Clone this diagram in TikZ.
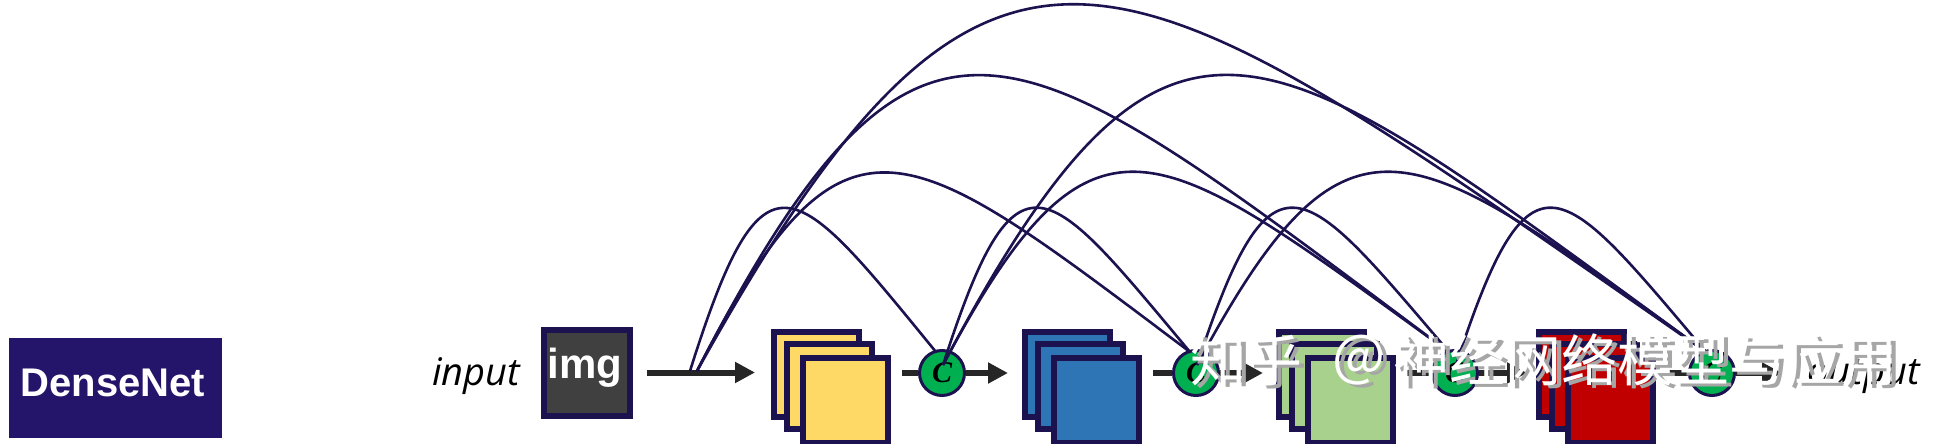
\documentclass[tikz,border=0pt]{standalone}
\usepackage{fontspec}
\setmainfont{Liberation Sans}
\newfontfamily\labfont{Open Sans}
\newfontfamily\cjkfont{Noto Sans CJK SC}
\newfontfamily\cfont{Liberation Serif}
\usetikzlibrary{arrows.meta,calc}
\definecolor{navy}{HTML}{1C1250}
\definecolor{denseblue}{HTML}{24156B}
\definecolor{imgfill}{HTML}{404040}
\definecolor{arrowgray}{HTML}{262626}
\definecolor{cyellow}{HTML}{FFD966}
\definecolor{cblue}{HTML}{2E75B6}
\definecolor{clgreen}{HTML}{A9D18E}
\definecolor{cred}{HTML}{C00000}
\definecolor{cgreen}{HTML}{00B050}
\definecolor{wmgray}{HTML}{A6A6A6}
\pgfdeclarelayer{back}
\pgfdeclarelayer{flowlayer}
\pgfsetlayers{back,flowlayer,main}
\tikzset{
  fmap/.style={draw=navy, line width=3pt, minimum size=42.5pt, inner sep=0pt, anchor=north west},
  concat/.style={circle, draw=navy, line width=1.5pt, fill=cgreen, minimum size=22.5pt, inner sep=0pt,
    font=\cfont\bfseries\itshape\fontsize{15}{15}\selectfont},
  flow/.style={draw=arrowgray, line width=3pt},
  flowarrow/.style={flow, -{Triangle[length=10pt,width=10pt]}},
  skipline/.style={draw=navy, line width=1.3pt},
  lab/.style={font=\labfont\itshape\fontsize{19}{19}\selectfont, inner sep=0pt, anchor=base west},
  wm/.style={font=\cjkfont\fontsize{28}{28}\selectfont, inner sep=0pt, anchor=west},
  wmshade/.style={wm, text=wmgray},
  wmfront/.style={wm, text=white}
}
\begin{document}
\begin{tikzpicture}[x=0.5pt,y=-0.5pt]
\begin{pgfonlayer}{back}
  \fill[white] (0,0) rectangle (1940,444);
\end{pgfonlayer}
\useasboundingbox (0,0) rectangle (1940,444);

% title box
\node[fill=denseblue, minimum width=106.5pt, minimum height=50pt, inner sep=0pt] (dnbox) at (115.5,388) {};
\node[text=white, font=\bfseries\fontsize{20}{20}\selectfont, inner sep=0pt] (dntext) at (113,383) {DenseNet};

% input
\node[lab] (inlab) at (432,385) {input};
\node[draw=navy, fill=imgfill, line width=3pt, minimum size=43pt, inner sep=0pt] (imgbox) at (587,372.5) {};
\node[text=white, font=\bfseries\fontsize{21}{21}\selectfont, inner sep=0pt] (imgtext) at (585,368) {img};

% feature map stacks
\node[fmap, fill=cyellow] (y1) at (771,329) {};
\node[fmap, fill=cyellow] (y2) at (784,341) {};
\node[fmap, fill=cyellow] (y3) at (800,355) {};
\node[fmap, fill=cblue] (b1) at (1022,329) {};
\node[fmap, fill=cblue] (b2) at (1035,341) {};
\node[fmap, fill=cblue] (b3) at (1051,355) {};
\node[fmap, fill=clgreen] (g1) at (1276,329) {};
\node[fmap, fill=clgreen] (g2) at (1289,341) {};
\node[fmap, fill=clgreen] (g3) at (1305,355) {};
\node[fmap, fill=cred] (r1) at (1536,329) {};
\node[fmap, fill=cred] (r2) at (1549,341) {};
\node[fmap, fill=cred] (r3) at (1565,355) {};

% concatenation nodes
\node[concat] (c1) at (942,373) {C};
\node[concat] (c2) at (1196,373) {C};
\node[concat] (c3) at (1455,373) {C};
\node[concat] (c4) at (1712,373) {C};

% output
\node[lab] (outlab) at (1807,384) {output};

% main flow
\begin{pgfonlayer}{flowlayer}
  \draw[flowarrow, shorten <=7pt, shorten >=8pt] (imgbox.east) -- (imgbox.east -| y1.west);
  \draw[flow, shorten <=5.5pt] (y3.east |- c1) -- (c1);
  \draw[flowarrow, shorten >=7pt] (c1) -- (c1 -| b1.west);
  \draw[flow, shorten <=5.5pt] (b3.east |- c2) -- (c2);
  \draw[flowarrow, shorten >=6.5pt] (c2) -- (c2 -| g1.west);
  \draw[flow, shorten <=5pt] (g3.east |- c3) -- (c3);
  \draw[flowarrow, shorten >=4.5pt] (c3) -- (c3 -| r1.west);
  \draw[flow, shorten <=5pt] (r3.east |- c4) -- (c4);
  \draw[flowarrow, shorten >=12.5pt] (c4) -- (c4 -| outlab.west);
\end{pgfonlayer}

% skip connection anchor points
\coordinate (s0a) at (690,371);
\coordinate (s0b) at (697,371);
\coordinate (o1) at ($(c1)+(1,-8)$);
\coordinate (o2) at ($(c2)+(1,-8)$);
\coordinate (o3) at ($(c3)+(1,-8)$);
\coordinate (e1) at ($(c1)+(-6,-21)$);
\coordinate (e2) at ($(c2)+(-6,-21)$);
\coordinate (e3) at ($(c3)+(-6,-21)$);
\coordinate (e4) at ($(c4)+(-6,-21)$);

% dense connections
\draw[skipline] (s0a) .. controls +(73.8,-234.8) and +(-142.7,-174.6) .. (e1);
\draw[skipline] (s0b) .. controls +(147.9,-288.8) and +(-285.9,-214.7) .. (e2);
\draw[skipline] (s0b) .. controls +(225.6,-437) and +(-436.2,-324.9) .. (e3);
\draw[skipline] (s0b) .. controls +(302.7,-544.9) and +(-585.2,-405.1) .. (e4);
\draw[skipline] (o1) .. controls +(74.1,-230.3) and +(-143.3,-171.2) .. (e2);
\draw[skipline] (o1) .. controls +(151.8,-285) and +(-293.5,-211.9) .. (e3);
\draw[skipline] (o1) .. controls +(228.9,-432.4) and +(-442.5,-321.5) .. (e4);
\draw[skipline] (o2) .. controls +(75.6,-230.3) and +(-146.2,-171.2) .. (e3);
\draw[skipline] (o2) .. controls +(152.7,-285) and +(-295.2,-211.9) .. (e4);
\draw[skipline] (o3) .. controls +(75,-230.3) and +(-145,-171.2) .. (e4);

% watermark
\node[wmshade] (wmAs) at (1195,363) {知乎};
\node[wmshade] (wmBs) at (1337,363) {@};
\node[wmshade] (wmCs) at (1398,363) {神经网络模型与应用};
\node[wmfront] (wmA) at (1190,360) {知乎};
\node[wmfront] (wmB) at (1332,360) {@};
\node[wmfront] (wmC) at (1393,360) {神经网络模型与应用};
\end{tikzpicture}
\end{document}
